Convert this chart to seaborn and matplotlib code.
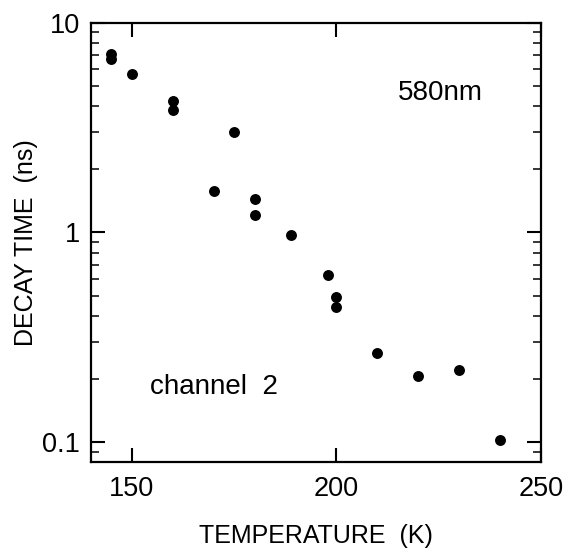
import matplotlib
matplotlib.use("Agg")
import matplotlib.pyplot as plt
import seaborn as sns
import pandas as pd
import numpy as np
from matplotlib.ticker import LogLocator, FixedLocator, NullFormatter, FixedFormatter

temperature = [145, 145, 150, 160, 160, 170, 175, 180, 180, 189, 198, 200, 200, 210, 220, 230, 240]
decay_time = [7.1, 6.7, 5.7, 4.25, 3.85, 1.58, 3.0, 1.44, 1.21, 0.97, 0.63, 0.49, 0.44, 0.265, 0.207, 0.222, 0.103]
x_ticks = [150, 200, 250]
y_ticks = [0.1, 1, 10]
y_tick_labels = ["0.1", "1", "10"]

sns.set_theme(style="ticks")
plt.rcParams['font.family'] = ['Liberation Sans', 'DejaVu Sans']

df = pd.DataFrame({"T": temperature, "tau": decay_time})

fig = plt.figure(figsize=(5.66, 5.49), dpi=100)
ax = fig.add_axes([0.1608, 0.1585, 0.7950, 0.8002])
sns.scatterplot(data=df, x="T", y="tau", ax=ax, color="black", s=62,
                edgecolor="black", linewidth=0, legend=False)
ax.set_yscale("log")
ax.set_xlim(140, 250)
ax.set_ylim(0.0805, 10)

ax.xaxis.set_major_locator(FixedLocator(x_ticks))
ax.yaxis.set_major_locator(FixedLocator(y_ticks))
ax.yaxis.set_major_formatter(FixedFormatter(y_tick_labels))
ax.yaxis.set_minor_locator(LogLocator(base=10, subs=np.arange(2, 10)))
ax.yaxis.set_minor_formatter(NullFormatter())

for s in ax.spines.values():
    s.set_linewidth(1.6)
    s.set_color("black")
    s.set_visible(True)

ax.tick_params(axis="both", which="major", direction="in", length=10, width=1.5,
               top=True, right=True, labelsize=19.5, colors="black")
ax.tick_params(axis="x", which="major", pad=10)
ax.tick_params(axis="y", which="major", pad=8)
ax.tick_params(axis="y", which="minor", direction="in", length=6, width=1.3,
               left=True, right=True)

ax.set_xlabel("TEMPERATURE  (K)", fontsize=18, labelpad=16, color="black")
ax.set_ylabel("DECAY TIME  (ns)", fontsize=18, labelpad=3, color="black")

ax.text(225.3, 4.63, "580nm", ha="center", va="center", fontsize=20, color="black")
ax.text(170.0, 0.183, "channel  2", ha="center", va="center", fontsize=20, color="black")

fig.savefig("out.png", dpi=100)
